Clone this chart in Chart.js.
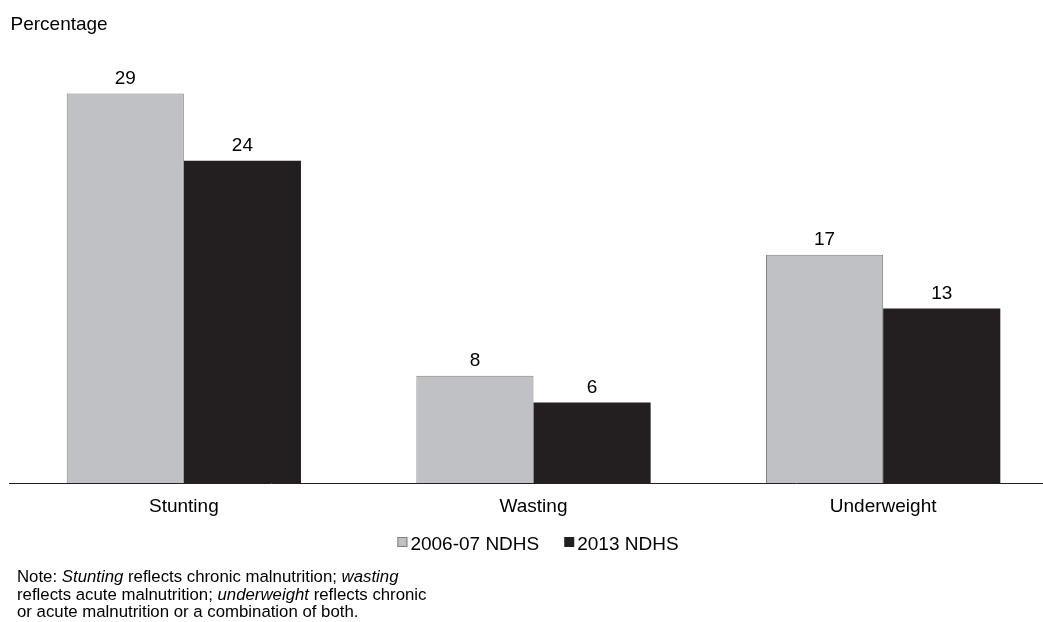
<!DOCTYPE html>
<html>
<head>
<meta charset="utf-8">
<script src="https://cdn.jsdelivr.net/npm/chart.js@4.4.0/dist/chart.umd.min.js"></script>
<style>
  html, body { margin: 0; padding: 0; background: #fff; overflow: hidden; width: 1043px; height: 622px; }
  #wrap { position: absolute; left: 0; top: 0; width: 1058px; height: 622px; }
  #note { position: absolute; left: 17px; top: 568px; font: 16.8px "Liberation Sans", Arial, sans-serif; line-height: 17.5px; color: #000; white-space: nowrap; }
</style>
</head>
<body>
<div id="wrap"><canvas id="chart" width="1058" height="622"></canvas></div>
<div id="note">Note: <i>Stunting</i> reflects chronic malnutrition; <i>wasting</i><br>reflects acute malnutrition; <i>underweight</i> reflects chronic<br>or acute malnutrition or a combination of both.</div>
<script>
// Nutritional status of children, two survey rounds
const categories = ['Stunting', 'Wasting', 'Underweight'];
const seriesLabels = ['2006-07 NDHS', '2013 NDHS'];
const values2006 = [29, 8, 17];
const values2013 = [24, 6, 13];
const yAxisTitle = 'Percentage';

const FONT = '"Liberation Sans", Arial, sans-serif';
const GREY = '#c0c1c4';
const GREY_EDGE = '#7f7f7f';
const DARK = '#231f20';

Chart.defaults.font.family = FONT;
Chart.defaults.color = '#000';

// Unit caption in the top-left corner
const unitCaption = {
  id: 'unitCaption',
  afterDraw(chart) {
    const ctx = chart.ctx;
    ctx.save();
    ctx.font = '19px ' + FONT;
    ctx.fillStyle = '#000';
    ctx.textAlign = 'left';
    ctx.textBaseline = 'alphabetic';
    ctx.fillText(yAxisTitle, 10.5, 29.5);
    ctx.restore();
  }
};

// Value printed above each bar
const valueLabels = {
  id: 'valueLabels',
  afterDatasetsDraw(chart) {
    const ctx = chart.ctx;
    ctx.save();
    ctx.font = '19px ' + FONT;
    ctx.fillStyle = '#000';
    ctx.textAlign = 'center';
    ctx.textBaseline = 'alphabetic';
    chart.data.datasets.forEach((ds, i) => {
      chart.getDatasetMeta(i).data.forEach((bar, j) => {
        ctx.fillText(String(ds.data[j]), bar.x, bar.y - 10);
      });
    });
    ctx.restore();
  }
};

// Compact legend below the category labels
const compactLegend = {
  id: 'compactLegend',
  afterDraw(chart) {
    const ctx = chart.ctx;
    ctx.save();
    ctx.font = '19px ' + FONT;
    const box = 10, gap = 3, spacing = 25;
    const items = chart.data.datasets.map(ds => ({
      text: ds.label, fill: ds.backgroundColor, edge: ds.borderColor,
      w: box + gap + ctx.measureText(ds.label).width
    }));
    const total = items.reduce((s, it) => s + it.w, 0) + spacing * (items.length - 1);
    let x = 538 - total / 2;
    const boxTop = 537, baseline = 550;
    items.forEach(it => {
      ctx.fillStyle = it.fill;
      ctx.fillRect(x, boxTop, box, box);
      if (it.edge && it.edge !== it.fill) {
        ctx.strokeStyle = it.edge;
        ctx.lineWidth = 1;
        ctx.strokeRect(x + 0.5, boxTop + 0.5, box - 1, box - 1);
      }
      ctx.fillStyle = '#000';
      ctx.textAlign = 'left';
      ctx.textBaseline = 'alphabetic';
      ctx.fillText(it.text, x + box + gap, baseline);
      x += it.w + spacing;
    });
    ctx.restore();
  }
};

new Chart(document.getElementById('chart'), {
  type: 'bar',
  data: {
    labels: categories,
    datasets: [
      {
        label: seriesLabels[0],
        data: values2006,
        backgroundColor: GREY,
        borderColor: GREY_EDGE,
        borderWidth: 1,
        borderSkipped: 'start'
      },
      {
        label: seriesLabels[1],
        data: values2013,
        backgroundColor: DARK,
        borderColor: DARK,
        borderWidth: 0
      }
    ]
  },
  options: {
    responsive: false,
    devicePixelRatio: 1,
    animation: false,
    layout: { padding: { left: 9, right: 0, top: 39.8, bottom: 92 } },
    datasets: { bar: { barPercentage: 1, categoryPercentage: 0.67 } },
    scales: {
      x: {
        grid: { display: false, drawTicks: false },
        border: { display: true, color: DARK, width: 1 },
        ticks: { font: { size: 19 }, color: '#000', padding: 12 }
      },
      y: { display: false, min: 0, max: 33 }
    },
    plugins: {
      legend: { display: false },
      tooltip: { enabled: false },
      title: { display: false }
    }
  },
  plugins: [valueLabels, compactLegend, unitCaption]
});
</script>
</body>
</html>
